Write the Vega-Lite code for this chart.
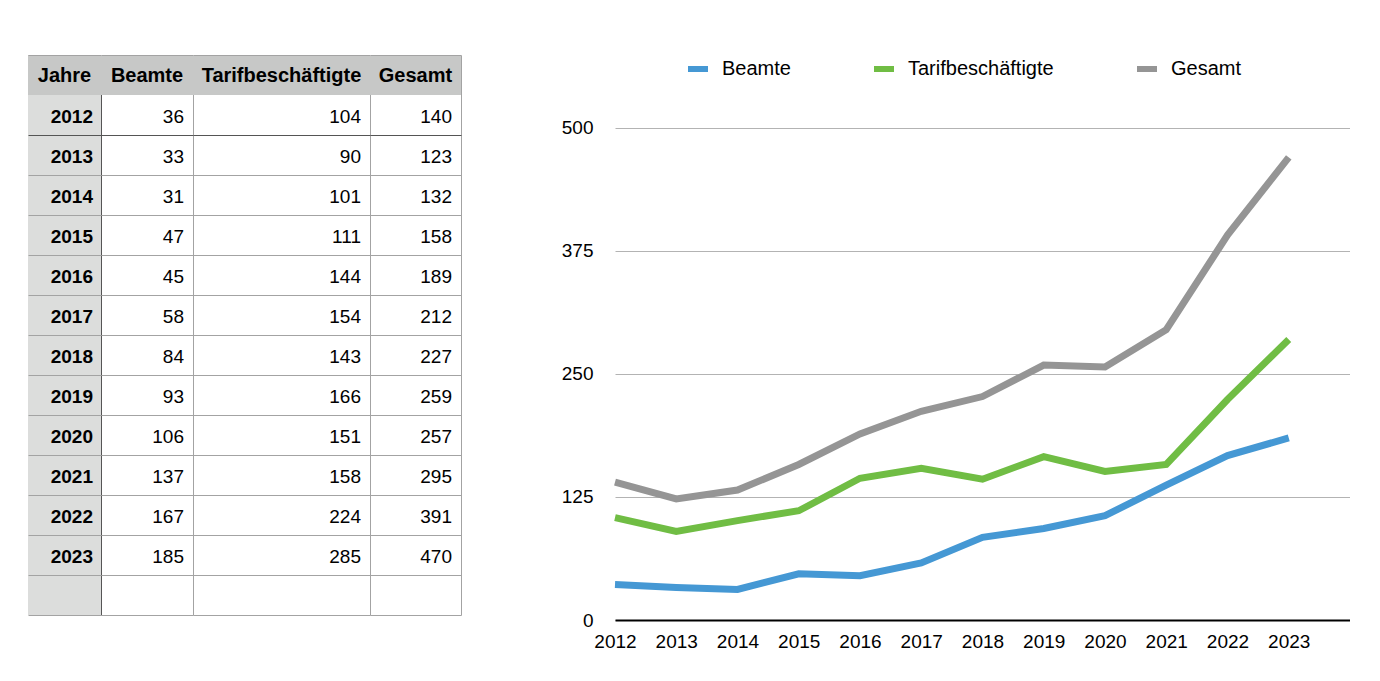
{
  "$schema": "https://vega.github.io/schema/vega-lite/v6.json",
  "padding": {"left": 28, "top": 55, "right": 0, "bottom": 0},
  "background": "white",
  "config": {
    "font": "Liberation Sans",
    "view": {"stroke": null},
    "axis": {"labelColor": "#000000", "labelFont": "Liberation Sans"},
    "legend": {"labelColor": "#000000", "labelFont": "Liberation Sans"}
  },
  "datasets": {
    "tabelle": [
      {"Jahre": 2012, "Beamte": 36, "Tarifbeschäftigte": 104, "Gesamt": 140},
      {"Jahre": 2013, "Beamte": 33, "Tarifbeschäftigte": 90, "Gesamt": 123},
      {"Jahre": 2014, "Beamte": 31, "Tarifbeschäftigte": 101, "Gesamt": 132},
      {"Jahre": 2015, "Beamte": 47, "Tarifbeschäftigte": 111, "Gesamt": 158},
      {"Jahre": 2016, "Beamte": 45, "Tarifbeschäftigte": 144, "Gesamt": 189},
      {"Jahre": 2017, "Beamte": 58, "Tarifbeschäftigte": 154, "Gesamt": 212},
      {"Jahre": 2018, "Beamte": 84, "Tarifbeschäftigte": 143, "Gesamt": 227},
      {"Jahre": 2019, "Beamte": 93, "Tarifbeschäftigte": 166, "Gesamt": 259},
      {"Jahre": 2020, "Beamte": 106, "Tarifbeschäftigte": 151, "Gesamt": 257},
      {"Jahre": 2021, "Beamte": 137, "Tarifbeschäftigte": 158, "Gesamt": 295},
      {"Jahre": 2022, "Beamte": 167, "Tarifbeschäftigte": 224, "Gesamt": 391},
      {"Jahre": 2023, "Beamte": 185, "Tarifbeschäftigte": 285, "Gesamt": 470}
    ]
  },
  "spacing": 100,
  "hconcat": [
    {
      "spacing": 0,
      "hconcat": [
        {
          "width": 73, "height": 560,
          "view": {"fill": "#dcdddc", "stroke": null},
          "data": {"name": "tabelle"},
          "layer": [
            {
              "data": {"values": [{}]},
              "mark": {"type": "rect", "color": "#c7c8c7"},
              "encoding": {
                "y": {"datum": "Kopf", "type": "ordinal"},
                "x": {"datum": 0, "type": "quantitative", "scale": {"domain": [0, 1], "nice": false, "zero": false},
                      "axis": {"values": [1], "grid": true, "gridColor": "#555555", "labels": false, "ticks": false, "domain": false, "title": null}},
                "x2": {"datum": 1}
              }
            },
            {
              "data": {"values": [{}]},
              "mark": {"type": "text", "text": "Jahre", "fontSize": 20, "fontWeight": "bold", "align": "center", "baseline": "middle", "dy": 1, "color": "#000000"},
              "encoding": {
                "y": {"datum": "Kopf", "type": "ordinal"},
                "x": {"datum": 0.5, "type": "quantitative"}
              }
            },
            {
              "mark": {"type": "text", "fontSize": 19, "fontWeight": "bold", "align": "right", "baseline": "middle", "dx": -8, "dy": 2, "color": "#000000"},
              "encoding": {
                "y": {"field": "Jahre", "type": "ordinal",
                      "scale": {"domain": ["Kopf", 2012, 2013, 2014, 2015, 2016, 2017, 2018, 2019, 2020, 2021, 2022, 2023, "Leer"], "paddingInner": 0, "paddingOuter": 0},
                      "axis": {"grid": true, "tickBand": "extent", "labels": false, "ticks": false, "domain": false, "title": null,
                               "gridColor": {"condition": [{"test": "datum.value === 2012", "value": "#555555"}, {"test": "datum.value === 'Kopf' && !datum.extra", "value": "transparent"}], "value": "#a3a3a3"}}},
                "x": {"datum": 1, "type": "quantitative"},
                "text": {"field": "Jahre", "type": "nominal"}
              }
            }
          ]
        },
        {
          "width": 92, "height": 560,
          "view": {"fill": null, "stroke": null},
          "data": {"name": "tabelle"},
          "layer": [
            {
              "data": {"values": [{}]},
              "mark": {"type": "rect", "color": "#c7c8c7"},
              "encoding": {
                "y": {"datum": "Kopf", "type": "ordinal"},
                "x": {"datum": 0, "type": "quantitative", "scale": {"domain": [0, 1], "nice": false, "zero": false},
                      "axis": {"values": [1], "grid": true, "gridColor": "#a3a3a3", "labels": false, "ticks": false, "domain": false, "title": null}},
                "x2": {"datum": 1}
              }
            },
            {
              "data": {"values": [{}]},
              "mark": {"type": "text", "text": "Beamte", "fontSize": 20, "fontWeight": "bold", "align": "center", "baseline": "middle", "dy": 1, "color": "#000000"},
              "encoding": {
                "y": {"datum": "Kopf", "type": "ordinal"},
                "x": {"datum": 0.5, "type": "quantitative"}
              }
            },
            {
              "mark": {"type": "text", "fontSize": 19, "align": "right", "baseline": "middle", "dx": -9, "dy": 2, "color": "#000000"},
              "encoding": {
                "y": {"field": "Jahre", "type": "ordinal",
                      "scale": {"domain": ["Kopf", 2012, 2013, 2014, 2015, 2016, 2017, 2018, 2019, 2020, 2021, 2022, 2023, "Leer"], "paddingInner": 0, "paddingOuter": 0},
                      "axis": {"grid": true, "tickBand": "extent", "labels": false, "ticks": false, "domain": false, "title": null,
                               "gridColor": {"condition": [{"test": "datum.value === 2012", "value": "#555555"}, {"test": "datum.value === 'Kopf' && !datum.extra", "value": "transparent"}], "value": "#a3a3a3"}}},
                "x": {"datum": 1, "type": "quantitative"},
                "text": {"field": "Beamte", "type": "quantitative"}
              }
            }
          ]
        },
        {
          "width": 177, "height": 560,
          "view": {"fill": null, "stroke": null},
          "data": {"name": "tabelle"},
          "layer": [
            {
              "data": {"values": [{}]},
              "mark": {"type": "rect", "color": "#c7c8c7"},
              "encoding": {
                "y": {"datum": "Kopf", "type": "ordinal"},
                "x": {"datum": 0, "type": "quantitative", "scale": {"domain": [0, 1], "nice": false, "zero": false},
                      "axis": {"values": [1], "grid": true, "gridColor": "#a3a3a3", "labels": false, "ticks": false, "domain": false, "title": null}},
                "x2": {"datum": 1}
              }
            },
            {
              "data": {"values": [{}]},
              "mark": {"type": "text", "text": "Tarifbeschäftigte", "fontSize": 20, "fontWeight": "bold", "align": "center", "baseline": "middle", "dy": 1, "color": "#000000"},
              "encoding": {
                "y": {"datum": "Kopf", "type": "ordinal"},
                "x": {"datum": 0.5, "type": "quantitative"}
              }
            },
            {
              "mark": {"type": "text", "fontSize": 19, "align": "right", "baseline": "middle", "dx": -9, "dy": 2, "color": "#000000"},
              "encoding": {
                "y": {"field": "Jahre", "type": "ordinal",
                      "scale": {"domain": ["Kopf", 2012, 2013, 2014, 2015, 2016, 2017, 2018, 2019, 2020, 2021, 2022, 2023, "Leer"], "paddingInner": 0, "paddingOuter": 0},
                      "axis": {"grid": true, "tickBand": "extent", "labels": false, "ticks": false, "domain": false, "title": null,
                               "gridColor": {"condition": [{"test": "datum.value === 2012", "value": "#555555"}, {"test": "datum.value === 'Kopf' && !datum.extra", "value": "transparent"}], "value": "#a3a3a3"}}},
                "x": {"datum": 1, "type": "quantitative"},
                "text": {"field": "Tarifbeschäftigte", "type": "quantitative"}
              }
            }
          ]
        },
        {
          "width": 91, "height": 560,
          "view": {"fill": null, "stroke": null},
          "data": {"name": "tabelle"},
          "layer": [
            {
              "data": {"values": [{}]},
              "mark": {"type": "rect", "color": "#c7c8c7"},
              "encoding": {
                "y": {"datum": "Kopf", "type": "ordinal"},
                "x": {"datum": 0, "type": "quantitative", "scale": {"domain": [0, 1], "nice": false, "zero": false},
                      "axis": {"values": [1], "grid": true, "gridColor": "#a3a3a3", "labels": false, "ticks": false, "domain": false, "title": null}},
                "x2": {"datum": 1}
              }
            },
            {
              "data": {"values": [{}]},
              "mark": {"type": "text", "text": "Gesamt", "fontSize": 20, "fontWeight": "bold", "align": "center", "baseline": "middle", "dy": 1, "color": "#000000"},
              "encoding": {
                "y": {"datum": "Kopf", "type": "ordinal"},
                "x": {"datum": 0.5, "type": "quantitative"}
              }
            },
            {
              "mark": {"type": "text", "fontSize": 19, "align": "right", "baseline": "middle", "dx": -9, "dy": 2, "color": "#000000"},
              "encoding": {
                "y": {"field": "Jahre", "type": "ordinal",
                      "scale": {"domain": ["Kopf", 2012, 2013, 2014, 2015, 2016, 2017, 2018, 2019, 2020, 2021, 2022, 2023, "Leer"], "paddingInner": 0, "paddingOuter": 0},
                      "axis": {"grid": true, "tickBand": "extent", "labels": false, "ticks": false, "domain": false, "title": null,
                               "gridColor": {"condition": [{"test": "datum.value === 2012", "value": "#555555"}, {"test": "datum.value === 'Kopf' && !datum.extra", "value": "transparent"}], "value": "#a3a3a3"}}},
                "x": {"datum": 1, "type": "quantitative"},
                "text": {"field": "Gesamt", "type": "quantitative"}
              }
            }
          ]
        }
      ]
    },
    {
      "width": 735, "height": 565,
      "data": {"name": "tabelle"},
      "transform": [{"fold": ["Beamte", "Tarifbeschäftigte", "Gesamt"], "as": ["Gruppe", "Anzahl"]}],
      "mark": {"type": "line", "strokeWidth": 7, "strokeCap": "butt", "strokeJoin": "miter"},
      "encoding": {
        "x": {"field": "Jahre", "type": "quantitative",
              "scale": {"domain": [2012, 2024], "nice": false, "zero": false},
              "axis": {"values": [2012, 2013, 2014, 2015, 2016, 2017, 2018, 2019, 2020, 2021, 2022, 2023], "format": "d", "title": null, "grid": false, "ticks": false,
                       "labelFontSize": 19, "labelPadding": 12, "labelFlush": false, "domainColor": "#000000", "domainWidth": 2}},
        "y": {"field": "Anzahl", "type": "quantitative",
              "scale": {"domain": [0, 574], "nice": false},
              "axis": {"values": [0, 125, 250, 375, 500], "title": null, "domain": false, "ticks": false, "labelPadding": 22,
                       "labelFontSize": 19, "gridColor": "#b3b3b3", "gridWidth": 1}},
        "color": {"field": "Gruppe", "type": "nominal",
                  "scale": {"domain": ["Beamte", "Tarifbeschäftigte", "Gesamt"], "range": ["#4598d4", "#70bd44", "#959595"]},
                  "legend": {"title": null, "orient": "none", "direction": "horizontal", "legendX": 657, "legendY": 1,
                             "symbolType": "stroke", "symbolStrokeWidth": 6, "symbolSize": 400, "labelFontSize": 20,
                             "columnPadding": 71, "labelOffset": 11}}
      }
    }
  ]
}
